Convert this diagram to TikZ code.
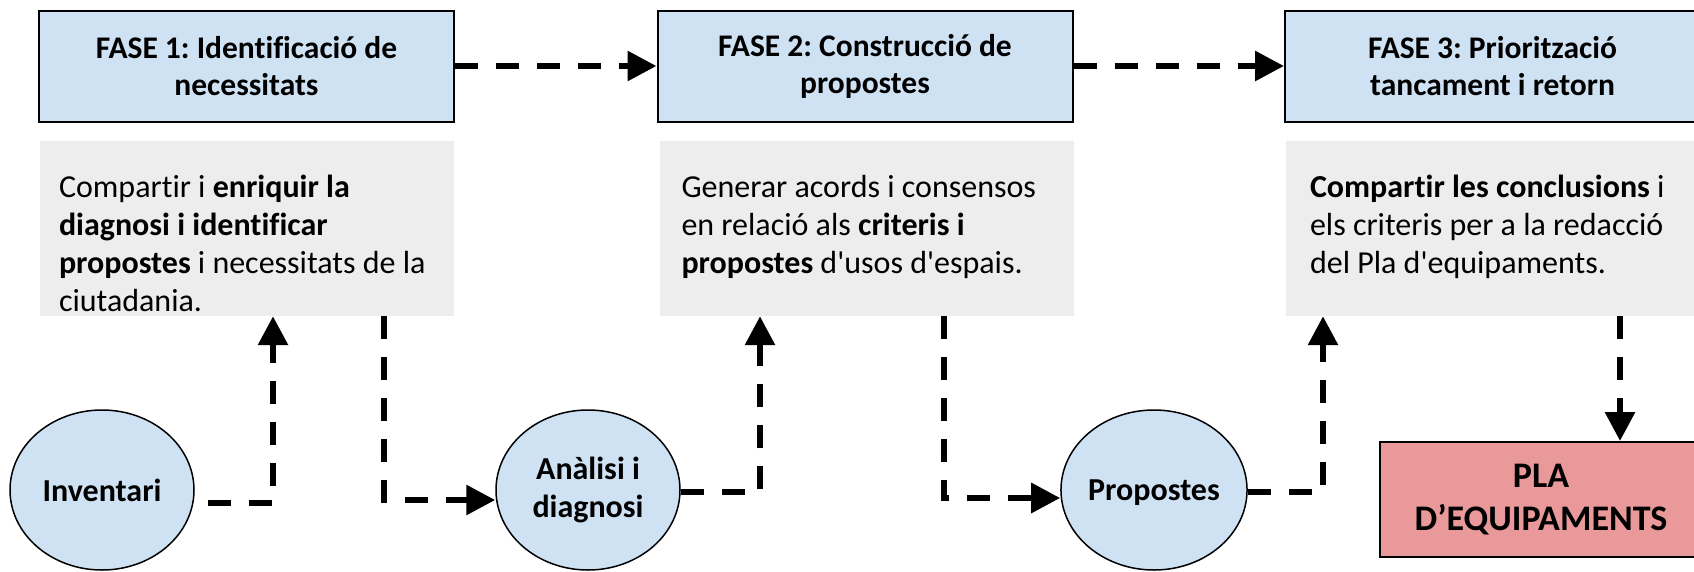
\documentclass[tikz,border=0pt]{standalone}
\usepackage{fontspec}
\setmainfont{Carlito}[Ligatures={TeX,NoCommon}]
\usetikzlibrary{arrows.meta,shapes.geometric}
\definecolor{faseblue}{RGB}{207,226,243}
\definecolor{boxgray}{RGB}{237,237,237}
\definecolor{plapink}{RGB}{233,153,153}
\newcommand{\apos}{\textquotesingle}
\frenchspacing
\begin{document}
\begin{tikzpicture}[x=1pt,y=-1pt,
  fase/.style={draw=black, line width=2pt, fill=faseblue, minimum width=415pt, minimum height=111pt, inner sep=0pt, align=center, font=\frenchspacing\bfseries\fontsize{31.5}{37}\selectfont},
  graybox/.style={fill=boxgray, minimum width=414pt, minimum height=175pt, inner sep=0pt},
  bodytext/.style={anchor=north west, inner sep=0pt, align=left, font=\frenchspacing\fontsize{32}{38}\selectfont},
  bubble/.style={ellipse, draw=black, line width=1.5pt, fill=faseblue, minimum width=184pt, minimum height=160pt, inner sep=0pt, align=center, font=\bfseries\fontsize{32}{38}\selectfont},
  plabox/.style={draw=black, line width=2pt, fill=plapink, minimum width=322pt, minimum height=115pt, inner sep=0pt, align=center, font=\bfseries\fontsize{36}{43}\selectfont},
  conn/.style={line width=6pt, dash pattern=on 23pt off 18pt, -{Triangle[length=29pt,width=29pt]}},
]
\useasboundingbox (0,0) rectangle (1694,571);

\node[fase] (f1) at (246.5,66) {FASE 1: Identificació de\\necessitats};
\node[fase] (f2) at (865,66) {FASE 2: Construcció de\\propostes};
\node[fase] (f3) at (1492.5,66) {FASE 3: Priorització\\tancament i retorn};

\node[graybox] (g1) at (247,228.5) {};
\node[graybox] (g2) at (866.5,228.5) {};
\node[graybox] (g3) at (1493,228.5) {};

\node[bodytext] (t1) at ([shift={(19,29.5)}]g1.north west) {\strut Compartir i \textbf{enriquir la}\\\textbf{diagnosi i identificar}\\\textbf{propostes} i necessitats de la\\ciutadania.};
\node[bodytext] (t2) at ([shift={(22,29.5)}]g2.north west) {\strut Generar acords i consensos\\en relació als \textbf{criteris i}\\\textbf{propostes} d\apos usos d\apos espais.};
\node[bodytext] (t3) at ([shift={(24,29.5)}]g3.north west) {\strut\textbf{Compartir les conclusions} i\\els criteris per a la redacció\\del Pla d\apos equipaments.};

\node[bubble] (inv) at (102,490) {Inventari};
\node[bubble] (ana) at (588,490) {Anàlisi i\\diagnosi};
\node[bubble, text depth=0pt] (prop) at (1154,490) {Propostes};

\node[plabox] (pla) at (1541,499.5) {PLA\\D’EQUIPAMENTS};

\draw[conn] (f1.east) -- (f2.west);
\draw[conn] (f2.east) -- (f3.west);
\draw[conn] ([shift={(13,13)}]inv.east) -| ([xshift=26pt]g1.south);
\draw[conn] ([xshift=137pt]g1.south) |- ([shift={(0,10)}]ana.west);
\draw[conn] ([shift={(0,2)}]ana.east) -| ([xshift=-106.5pt]g2.south);
\draw[conn] ([xshift=77.5pt]g2.south) |- ([shift={(0,8)}]prop.west);
\draw[conn] ([shift={(0,2)}]prop.east) -| ([xshift=-170pt]g3.south);
\draw[conn] ([xshift=127pt]g3.south) -- ([xshift=79pt]pla.north);
\end{tikzpicture}
\end{document}
